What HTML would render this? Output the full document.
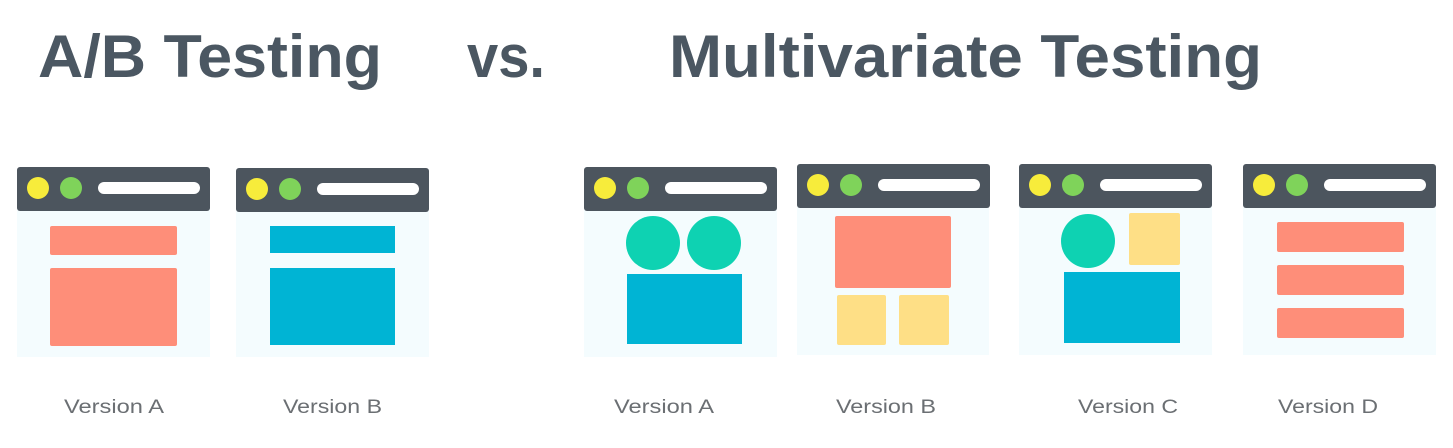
<!DOCTYPE html>
<html><head><meta charset="utf-8"><style>html,body{margin:0;padding:0;background:#fff}svg{display:block}</style></head>
<body>
<svg width="1453" height="448" viewBox="0 0 1453 448" xmlns="http://www.w3.org/2000/svg">
<defs>
<g id="hdr">
<rect x="0" y="0" width="193" height="44" rx="3" fill="#4c555e"/>
<circle cx="21" cy="21" r="11" fill="#f7ec3b"/>
<circle cx="54" cy="21" r="11" fill="#7fd35a"/>
<rect x="81" y="15" width="102" height="12" rx="6" fill="#fff"/>
</g>
</defs>
<g font-family="Liberation Sans, sans-serif" font-weight="bold" fill="#4b5762" font-size="60">
<text x="38" y="77" textLength="344" lengthAdjust="spacingAndGlyphs">A/B Testing</text>
<text x="467" y="77" textLength="78" lengthAdjust="spacingAndGlyphs">vs.</text>
<text x="669" y="77" textLength="593" lengthAdjust="spacingAndGlyphs">Multivariate Testing</text>
</g>
<!-- window backgrounds -->
<g fill="#f4fcfe">
<rect x="17" y="205" width="193" height="152"/>
<rect x="236" y="206" width="193" height="151"/>
<rect x="584" y="205" width="193" height="152"/>
<rect x="797" y="202" width="192" height="153"/>
<rect x="1019" y="202" width="193" height="153"/>
<rect x="1243" y="202" width="193" height="153"/>
</g>
<use href="#hdr" x="17" y="167"/>
<use href="#hdr" x="236" y="168"/>
<use href="#hdr" x="584" y="167"/>
<use href="#hdr" x="797" y="164"/>
<use href="#hdr" x="1019" y="164"/>
<use href="#hdr" x="1243" y="164"/>
<!-- A/B -->
<rect x="50" y="226" width="127" height="29" rx="2" fill="#fe8e79"/>
<rect x="50" y="268" width="127" height="78" rx="2" fill="#fe8e79"/>
<rect x="270" y="226" width="125" height="27" fill="#00b4d4"/>
<rect x="270" y="268" width="125" height="77" fill="#00b4d4"/>
<!-- MV A -->
<circle cx="653" cy="243" r="27" fill="#0ed2b2"/>
<circle cx="714" cy="243" r="27" fill="#0ed2b2"/>
<rect x="627" y="274" width="115" height="70" fill="#00b4d4"/>
<!-- MV B -->
<rect x="835" y="216" width="116" height="72" rx="2" fill="#fe8e79"/>
<rect x="837" y="295" width="49" height="50" rx="2" fill="#fedf86"/>
<rect x="899" y="295" width="50" height="50" rx="2" fill="#fedf86"/>
<!-- MV C -->
<circle cx="1088" cy="241" r="27" fill="#0ed2b2"/>
<rect x="1129" y="213" width="51" height="52" rx="2" fill="#fedf86"/>
<rect x="1064" y="272" width="116" height="71" fill="#00b4d4"/>
<!-- MV D -->
<rect x="1277" y="222" width="127" height="30" rx="2" fill="#fe8e79"/>
<rect x="1277" y="265" width="127" height="30" rx="2" fill="#fe8e79"/>
<rect x="1277" y="308" width="127" height="30" rx="2" fill="#fe8e79"/>
<g font-family="Liberation Sans, sans-serif" fill="#6b6f73" font-size="19">
<text x="64" y="413" textLength="100" lengthAdjust="spacingAndGlyphs">Version A</text>
<text x="283" y="413" textLength="99" lengthAdjust="spacingAndGlyphs">Version B</text>
<text x="614" y="413" textLength="100" lengthAdjust="spacingAndGlyphs">Version A</text>
<text x="836" y="413" textLength="100" lengthAdjust="spacingAndGlyphs">Version B</text>
<text x="1078" y="413" textLength="100" lengthAdjust="spacingAndGlyphs">Version C</text>
<text x="1278" y="413" textLength="100" lengthAdjust="spacingAndGlyphs">Version D</text>
</g>
</svg>
</body></html>
